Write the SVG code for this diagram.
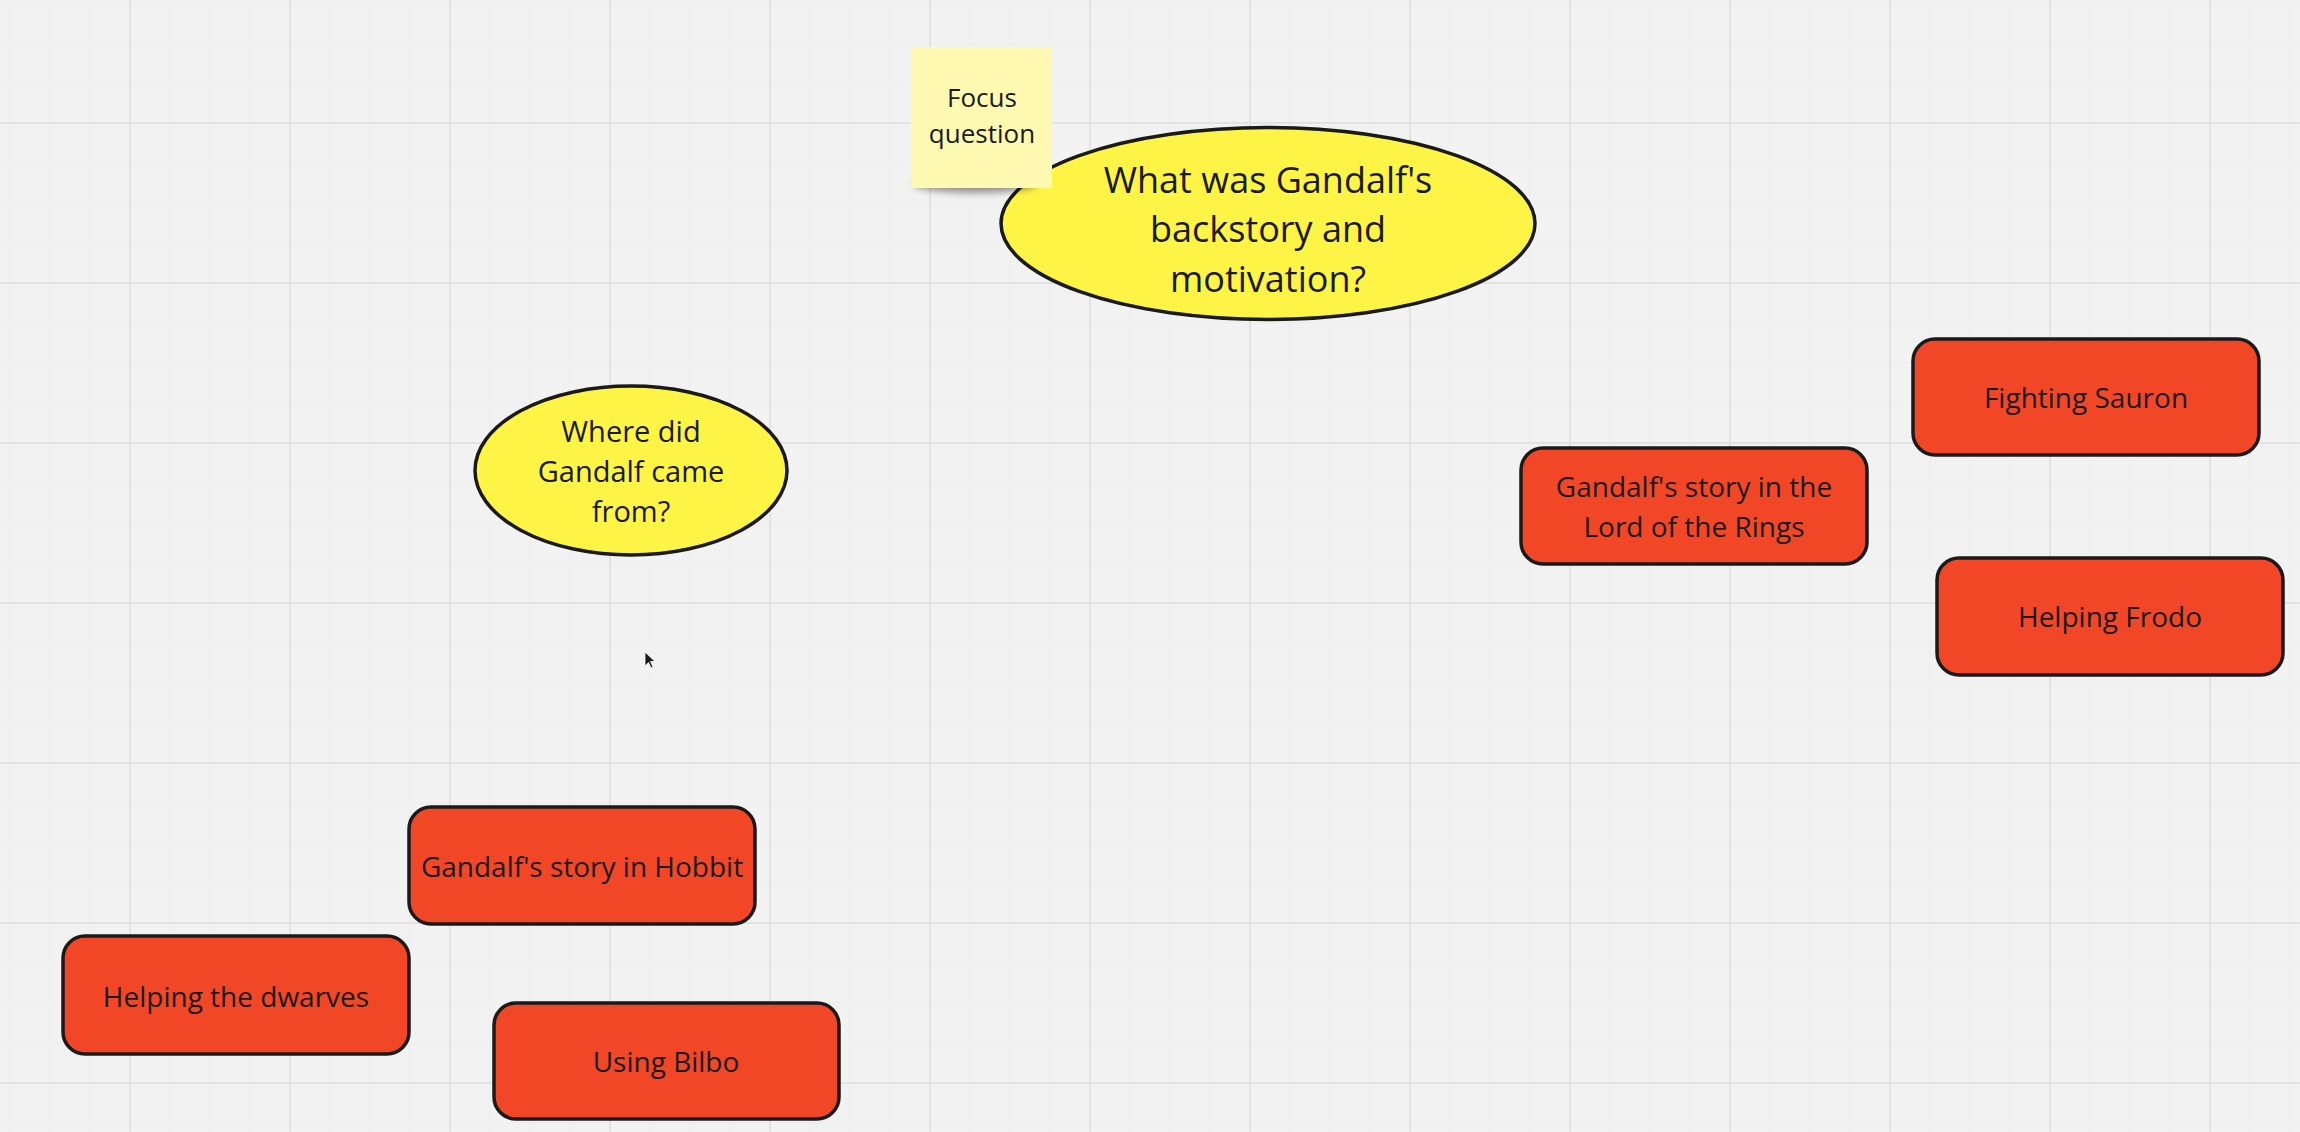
<svg xmlns="http://www.w3.org/2000/svg" width="2300" height="1132" viewBox="0 0 2300 1132">
  <style>
    .box { fill: #f24726; stroke: #1a1a1a; stroke-width: 3.5; }
    .oval { fill: #fef445; stroke: #1a1a1a; stroke-width: 3.5; }
    .sticky { fill: #fff9b1; }
    text { font-family: "Open Sans", "Liberation Sans", sans-serif; fill: #1a1a1a; text-anchor: middle; }
    .t28 { font-size: 28px; }
    .t29 { font-size: 29px; }
    .t36 { font-size: 36px; }
    .t26 { font-size: 26px; }
  </style>
  <defs>
    <pattern id="minor" x="-10" y="-17" width="40" height="40" patternUnits="userSpaceOnUse">
      <path d="M20 0V40M0 20H40" stroke="#ececec" stroke-width="1" fill="none"/>
    </pattern>
    <pattern id="major" x="50" y="43" width="160" height="160" patternUnits="userSpaceOnUse">
      <path d="M80 0V160M0 80H160" stroke="#e2e2e2" stroke-width="2" fill="none"/>
    </pattern>
    <filter id="blur" x="-50%" y="-50%" width="200%" height="200%">
      <feGaussianBlur stdDeviation="3.5"/>
    </filter>
  </defs>

  <rect x="0" y="0" width="2300" height="1132" fill="#f2f2f2"/>
  <rect x="0" y="0" width="2300" height="1132" fill="url(#minor)"/>
  <rect x="0" y="0" width="2300" height="1132" fill="url(#major)"/>

  <g id="connectors"></g>

  <g id="focus-ellipse">
    <ellipse class="oval" cx="1268" cy="223.5" rx="267" ry="96"/>
    <text class="t36" x="1268" y="193">What was Gandalf's</text>
    <text class="t36" x="1268" y="242">backstory and</text>
    <text class="t36" x="1268" y="292">motivation?</text>
  </g>

  <g id="focus-sticky">
    <ellipse cx="975" cy="184" rx="62" ry="9" fill="#000" opacity="0.4" filter="url(#blur)"/>
    <rect class="sticky" x="911" y="47" width="141" height="141"/>
    <text class="t26" x="982" y="107">Focus</text>
    <text class="t26" x="982" y="143">question</text>
  </g>

  <g id="where-ellipse">
    <ellipse class="oval" cx="631" cy="470.5" rx="156" ry="84.5"/>
    <text class="t29" x="631" y="442">Where did</text>
    <text class="t29" x="631" y="482">Gandalf came</text>
    <text class="t29" x="631" y="522">from?</text>
  </g>

  <g id="lotr">
    <rect class="box" x="1521" y="448" width="346" height="116" rx="22"/>
    <text class="t28" x="1694" y="497">Gandalf's story in the</text>
    <text class="t28" x="1694" y="537">Lord of the Rings</text>
  </g>

  <g id="fighting-sauron">
    <rect class="box" x="1913" y="339" width="346" height="116" rx="22"/>
    <text class="t28" x="2086" y="408">Fighting Sauron</text>
  </g>

  <g id="helping-frodo">
    <rect class="box" x="1937" y="558" width="346" height="117" rx="22"/>
    <text class="t28" x="2110" y="627">Helping Frodo</text>
  </g>

  <g id="hobbit">
    <rect class="box" x="409" y="807" width="346" height="117" rx="22"/>
    <text class="t28" x="582" y="877">Gandalf's story in Hobbit</text>
  </g>

  <g id="helping-dwarves">
    <rect class="box" x="63" y="936" width="346" height="118" rx="22"/>
    <text class="t28" x="236" y="1007">Helping the dwarves</text>
  </g>

  <g id="using-bilbo">
    <rect class="box" x="494" y="1003" width="345" height="116" rx="22"/>
    <text class="t28" x="666" y="1072">Using Bilbo</text>
  </g>

  <g id="cursor">
    <path d="M645 652 L645 666 L648.5 662.5 L651 668 L653 667 L650.5 661.5 L655 661.5 Z" fill="#1a1a1a" stroke="#ffffff" stroke-width="0.8"/>
  </g>
</svg>
